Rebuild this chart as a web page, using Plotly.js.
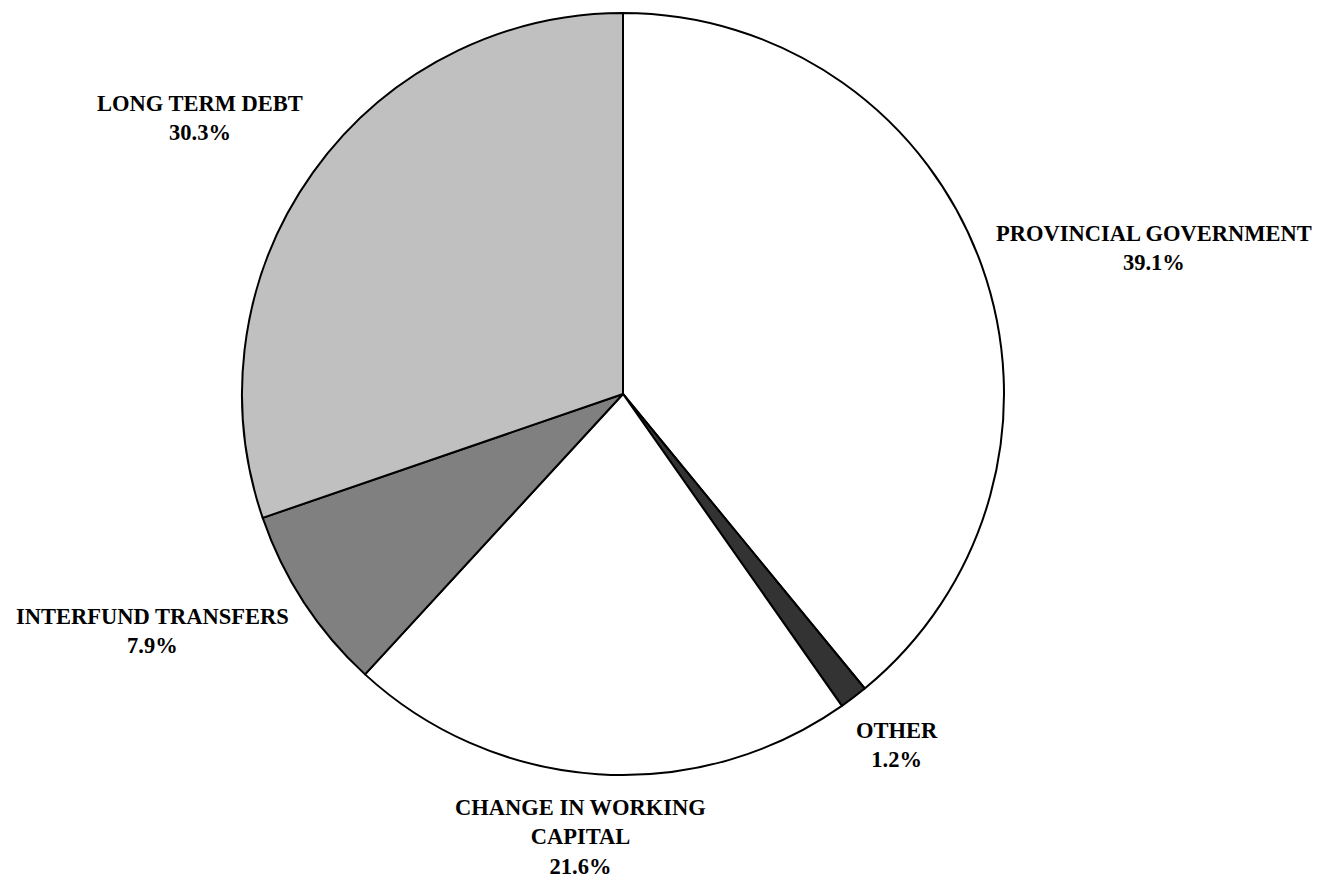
<!DOCTYPE html>
<html>
<head>
<meta charset="utf-8">
<script src="https://cdn.plot.ly/plotly-3.0.1.min.js"></script>
<style>html,body{margin:0;padding:0;background:#fff;}#chart{width:1319px;height:877px;}</style>
</head>
<body>
<div id="chart"></div>
<script>
const labels = ["PROVINCIAL GOVERNMENT", "OTHER", "CHANGE IN WORKING CAPITAL", "INTERFUND TRANSFERS", "LONG TERM DEBT"];
const displayLabels = ["PROVINCIAL GOVERNMENT", "OTHER", "CHANGE IN WORKING<br>CAPITAL", "INTERFUND TRANSFERS", "LONG TERM DEBT"];
const values = [39.1, 1.2, 21.6, 7.9, 30.3];
const colors = ["#ffffff", "#333333", "#ffffff", "#808080", "#c0c0c0"];
// label anchor positions in pixels (text placement)
const labelPx = [[1154, 248], [897, 745], [580, 837], [152, 631], [200, 118]];

const W = 1319, H = 877;
const annotations = labels.map((l, i) => ({
  x: labelPx[i][0] / W, y: 1 - labelPx[i][1] / H, xref: "paper", yref: "paper",
  xanchor: "center", yanchor: "middle", showarrow: false, align: "center",
  text: displayLabels[i] + "<br>" + values[i].toFixed(1) + "%",
  font: {family: "Liberation Serif, Times New Roman, serif", size: 22.5, color: "#000", weight: "bold"}
}));

const data = [{
  type: "pie", labels: labels, values: values, sort: false, direction: "clockwise", rotation: 0,
  marker: {colors: colors, line: {color: "#000", width: 2}},
  textinfo: "none", hoverinfo: "label+percent", showlegend: false,
  domain: {x: [242 / W, 1004 / W], y: [1 - 775 / H, 1 - 13 / H]}
}];
const layout = {
  width: W, height: H, margin: {l: 0, r: 0, t: 0, b: 0},
  paper_bgcolor: "#fff", plot_bgcolor: "#fff", showlegend: false,
  annotations: annotations
};
Plotly.newPlot("chart", data, layout, {displayModeBar: false, staticPlot: true});
</script>
</body>
</html>
